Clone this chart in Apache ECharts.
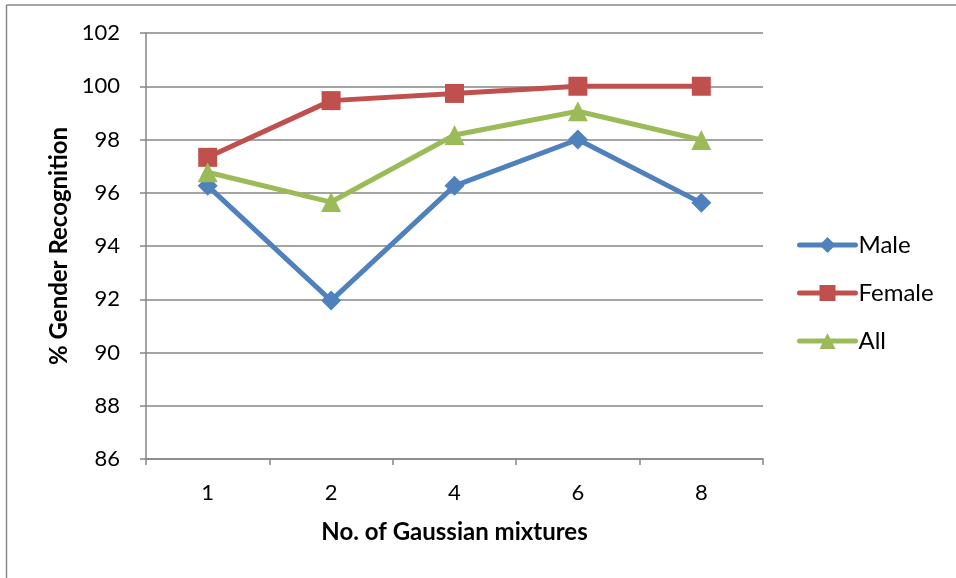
<!DOCTYPE html>
<html>
<head>
<meta charset="utf-8">
<script src="https://cdn.jsdelivr.net/npm/echarts@6/dist/echarts.min.js"></script>
<style>html,body{margin:0;padding:0;background:#fff}#c{width:956px;height:578px}</style>
</head>
<body>
<div id="c"></div>
<script>
const categories = ['1', '2', '4', '6', '8'];
const male = [96.26, 91.95, 96.26, 98.0, 95.62];
const female = [97.33, 99.46, 99.73, 100.0, 100.0];
const all = [96.77, 95.65, 98.17, 99.06, 97.98];
const yMin = 86, yMax = 102, yStep = 2;

const FONT = 'Lato, "Open Sans", sans-serif';
const chart = echarts.init(document.getElementById('c'), null, {renderer: 'canvas'});
const axisGray = '#868686';
function lineSeries(name, data, color, symbol, size) {
  return {
    name, type: 'line', data, symbol, symbolSize: size,
    lineStyle: {color, width: 5}, itemStyle: {color},
    emphasis: {disabled: true}, animation: false
  };
}
chart.setOption({
  animation: false,
  textStyle: {fontFamily: FONT},
  grid: {left: 146, right: 193, top: 33, bottom: 119, containLabel: false},
  graphic: [
    {type: 'line', shape: {x1: 6.5, y1: 5, x2: 956, y2: 5}, style: {stroke: '#888', lineWidth: 1.5}},
    {type: 'line', shape: {x1: 6.5, y1: 5, x2: 6.5, y2: 578}, style: {stroke: '#888', lineWidth: 1.5}}
  ],
  legend: {
    orient: 'vertical', left: 792, top: 228, itemGap: 24,
    itemWidth: 56, itemHeight: 20,
    lineStyle: {width: 5, cap: 'round'},
    textStyle: {fontFamily: FONT, fontSize: 24, color: '#000', padding: [0, 0, 0, -2]},
    data: ['Male', 'Female', 'All']
  },
  xAxis: {
    type: 'category', data: categories, boundaryGap: true,
    name: 'No. of Gaussian mixtures', nameLocation: 'middle', nameGap: 61,
    nameTextStyle: {fontFamily: FONT, fontSize: 24, fontWeight: 'bold', color: '#000'},
    axisLine: {lineStyle: {color: axisGray, width: 1.5}},
    axisTick: {show: true, length: 6, lineStyle: {color: axisGray, width: 1.5}},
    axisLabel: {fontFamily: FONT, fontSize: 22, color: '#000', margin: 23},
    splitLine: {show: false}
  },
  yAxis: {
    type: 'value', min: yMin, max: yMax, interval: yStep,
    name: '% Gender Recognition', nameLocation: 'middle', nameGap: 74,
    nameTextStyle: {fontFamily: FONT, fontSize: 24, fontWeight: 'bold', color: '#000'},
    axisLine: {show: true, lineStyle: {color: axisGray, width: 1.5}},
    axisTick: {show: true, length: 6, lineStyle: {color: axisGray, width: 1.5}},
    axisLabel: {fontFamily: FONT, fontSize: 22, color: '#000', margin: 26},
    splitLine: {show: true, lineStyle: {color: axisGray, width: 1.5}}
  },
  series: [
    lineSeries('Male', male, '#4F81BD', 'diamond', 20),
    lineSeries('Female', female, '#C0504D', 'rect', 19),
    lineSeries('All', all, '#9BBB59', 'triangle', 20)
  ]
});
</script>
</body>
</html>
